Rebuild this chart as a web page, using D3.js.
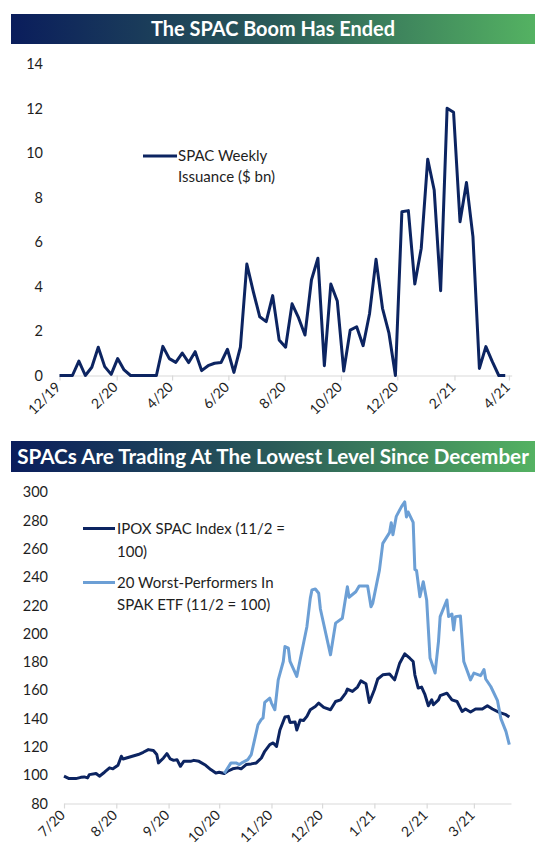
<!DOCTYPE html>
<html><head><meta charset="utf-8">
<script src="https://cdn.jsdelivr.net/npm/d3@7"></script>
<style>body{margin:0;background:#fff}svg{display:block}</style>
</head><body><svg id="c" width="548" height="859"></svg>
<script>
// ---------- DATA ----------
const title1 = "The SPAC Boom Has Ended";
const title2 = "SPACs Are Trading At The Lowest Level Since December";

// Chart 1: weekly SPAC issuance ($ bn), weeks starting 2019-12-01
const weeklyStart = "2019-12-01";
const weeklyIssuance = [0,0,0,0.65,0,0.37,1.27,0.4,0.05,0.76,
  0.25,0,0,0,0,0,1.31,0.76,0.59,1.01,
  0.58,1.07,0.22,0.44,0.55,0.58,1.18,0.14,1.27,5.01,
  3.77,2.64,2.42,3.59,1.6,1.27,3.22,2.6,1.82,4.29,
  5.27,0.44,4.11,3.35,0.2,2.04,2.19,1.34,2.79,5.22,
  3.02,1.9,0,7.36,7.41,4.11,5.72,9.72,8.34,3.81,
  12.01,11.83,6.91,8.67,6.24,0.32,1.3,0.62,0,0];
const chart1Legend = ["SPAC Weekly", "Issuance ($ bn)"];
const chart1YTicks = [0,2,4,6,8,10,12,14];
const chart1XTicks = ["2019-12-01","2020-02-01","2020-04-01","2020-06-01","2020-08-01","2020-10-01","2020-12-01","2021-02-01","2021-04-01"];

// Chart 2: IPOX SPAC Index and 20 worst performers in SPAK ETF
const ipoxDates = ["2020-07-01","2020-07-04","2020-07-08","2020-07-11","2020-07-13","2020-07-15","2020-07-16","2020-07-20","2020-07-22","2020-07-25",
  "2020-07-28","2020-07-30","2020-08-02","2020-08-04","2020-08-05","2020-08-09","2020-08-14","2020-08-17","2020-08-20","2020-08-23",
  "2020-08-25","2020-08-26","2020-08-29","2020-08-31","2020-09-02","2020-09-04","2020-09-06","2020-09-08","2020-09-10","2020-09-14",
  "2020-09-16","2020-09-19","2020-09-23","2020-09-26","2020-09-29","2020-10-01","2020-10-04","2020-10-06","2020-10-09","2020-10-12",
  "2020-10-14","2020-10-17","2020-10-20","2020-10-23","2020-10-26","2020-10-28","2020-10-31","2020-11-02","2020-11-04","2020-11-06",
  "2020-11-09","2020-11-11","2020-11-12","2020-11-15","2020-11-16","2020-11-18","2020-11-20","2020-11-22","2020-11-24","2020-11-27",
  "2020-11-29","2020-12-02","2020-12-06","2020-12-09","2020-12-12","2020-12-15","2020-12-16","2020-12-19","2020-12-22","2020-12-24",
  "2020-12-27","2020-12-29","2021-01-01","2021-01-03","2021-01-06","2021-01-10","2021-01-13","2021-01-16","2021-01-19","2021-01-22",
  "2021-01-24","2021-01-25","2021-01-27","2021-01-29","2021-01-31","2021-02-02","2021-02-04","2021-02-05","2021-02-08","2021-02-09",
  "2021-02-13","2021-02-16","2021-02-19","2021-02-22","2021-02-24","2021-02-27","2021-03-02","2021-03-06","2021-03-09","2021-03-12",
  "2021-03-16","2021-03-20","2021-03-22"];
const ipoxValues = [99.3,97.6,97.6,98.5,98.8,98.1,100.4,101.2,99.3,102.1,
  105.2,104.5,107,113.4,111.5,112.9,114.6,116.2,118.1,117.4,
  114.6,108.7,112.2,115.3,111.5,110.5,111,106.3,109.8,109.8,
  110.5,109.8,107,104,101.6,102.1,101.2,102.8,104.5,105.2,
  104.5,107.5,108,108.7,112.2,116.9,121.6,122.8,120.4,132,
  141.1,141.6,137.3,137.6,132,139,138.7,141.6,146.3,148.6,
  151,147.9,146.3,152.1,153.3,158,160.9,159.2,162.3,166.7,
  164.6,151.4,160.4,168,171,171.5,167.4,179.2,185.8,182.7,
  180.4,171,161.6,162.3,156.9,149.1,153.3,149.8,153.3,156.2,
  158,153.3,152.1,145.1,146.8,144.7,146.8,146.8,149.1,146.8,
  144.4,142.8,141.1];

const worstDates = ["2020-10-04","2020-10-08","2020-10-11","2020-10-13","2020-10-15","2020-10-18","2020-10-20","2020-10-22","2020-10-24","2020-10-26",
  "2020-10-27","2020-10-28","2020-10-31","2020-11-01","2020-11-03","2020-11-05","2020-11-08","2020-11-09","2020-11-11","2020-11-12",
  "2020-11-16","2020-11-18","2020-11-22","2020-11-24","2020-11-25","2020-11-27","2020-11-29","2020-11-30","2020-12-06","2020-12-09",
  "2020-12-13","2020-12-16","2020-12-17","2020-12-21","2020-12-23","2020-12-28","2020-12-30","2020-12-31","2021-01-04","2021-01-06",
  "2021-01-10","2021-01-11","2021-01-12","2021-01-14","2021-01-17","2021-01-19","2021-01-20","2021-01-21","2021-01-24","2021-01-25",
  "2021-01-26","2021-01-28","2021-01-30","2021-02-01","2021-02-03","2021-02-06","2021-02-08","2021-02-09","2021-02-13","2021-02-14",
  "2021-02-16","2021-02-17","2021-02-18","2021-02-21","2021-02-23","2021-02-27","2021-03-01","2021-03-05","2021-03-07","2021-03-08",
  "2021-03-11","2021-03-15","2021-03-17","2021-03-20","2021-03-22"];
const worstValues = [101.2,108.7,108.7,107.5,109.1,111,114.6,125.1,135.7,139.5,
  140.4,151.5,154.5,151,146.3,167.4,180.4,191,189.8,180.4,
  169.8,181.6,205,225,231,231.6,228.6,217.5,185.1,207.5,
  211,233.2,225.8,229.7,233.7,233.7,219.1,221.5,245,263.9,
  271.5,278.5,270,283,289.7,293.2,282.6,286.1,278.8,245.5,
  244.7,226.2,236.8,223.9,182.8,172.2,194.5,212.1,223.9,212.2,
  213.9,202.7,212.1,212.6,180.4,167.4,172.2,170.4,174.7,168,
  162.7,152.7,140,131,121.6];
const chart2Legend1 = ["IPOX SPAC Index (11/2 =", "100)"];
const chart2Legend2 = ["20 Worst-Performers In", "SPAK ETF (11/2 = 100)"];
const chart2YTicks = [80,100,120,140,160,180,200,220,240,260,280,300];
const chart2XTicks = ["2020-07-01","2020-08-01","2020-09-01","2020-10-01","2020-11-01","2020-12-01","2021-01-01","2021-02-01","2021-03-01"];

// ---------- STYLE ----------
const NAVY = "#0c2461", LIGHT = "#6c9fd5", AXIS = "#d9d9d9", TXT = "#1e1e1e";
const FONT = "Lato, 'Open Sans', sans-serif";
const LEG = 15;

const parse = d3.utcParse("%Y-%m-%d");
const fmtTick = d => `${d.getUTCMonth()+1}/${String(d.getUTCFullYear()).slice(2)}`;

const svg = d3.select("#c");
svg.append("rect").attr("width",548).attr("height",859).attr("fill","#fff");
const defs = svg.append("defs");
const grad = defs.append("linearGradient").attr("id","tg").attr("x1","0").attr("x2","1").attr("y1","0").attr("y2","0");
grad.append("stop").attr("offset","0").attr("stop-color","#0a1d5c");
grad.append("stop").attr("offset","0.5").attr("stop-color","#2a5a58");
grad.append("stop").attr("offset","1").attr("stop-color","#54b262");

function titleBar(y, h, text, targetW) {
  svg.append("rect").attr("x",11).attr("y",y).attr("width",524).attr("height",h).attr("fill","url(#tg)");
  const t = svg.append("text").attr("x",273).attr("y",y+h/2).attr("dy","0.36em")
    .attr("text-anchor","middle").attr("fill","#fff").attr("font-family",FONT)
    .attr("font-weight","bold").attr("font-size",20).text(text);
  const w = t.node().getComputedTextLength();
  t.attr("font-size", (20*targetW/w).toFixed(2));
}
titleBar(14, 30, title1, 244);
titleBar(441, 31, title2, 512);

function styleXAxis(g) {
  g.select(".domain").attr("stroke",AXIS).attr("stroke-width",1.2);
  g.selectAll(".tick line").attr("stroke",AXIS).attr("stroke-width",1.2);
  g.selectAll(".tick text").attr("fill",TXT).attr("font-family",FONT).attr("font-size",14)
    .attr("text-anchor","end").attr("x",null).attr("y",null).attr("dy","0.35em")
    .attr("transform","translate(-2,9) rotate(-45)");
}
function styleYAxis(g) {
  g.select(".domain").remove();
  g.selectAll(".tick line").remove();
  g.selectAll(".tick text").attr("fill",TXT).attr("font-family",FONT).attr("font-size",14.5);
}

// ---------- CHART 1 ----------
const x1 = d3.scaleUtc().domain([parse("2019-12-01"), parse("2021-04-04")]).range([59.5, 511.7]);
const y1 = d3.scaleLinear().domain([0,14]).range([375.5, 64]);
const start1 = parse(weeklyStart);
const data1 = weeklyIssuance.map((v,i) => ({d: d3.utcDay.offset(start1, 7*i), v}));

svg.append("g").attr("transform","translate(0,375.5)")
  .call(d3.axisBottom(x1).tickValues(chart1XTicks.map(parse)).tickFormat(fmtTick).tickSize(5).tickSizeOuter(0))
  .call(styleXAxis);
svg.append("g").attr("transform","translate(45,0)")
  .call(d3.axisLeft(y1).tickValues(chart1YTicks).tickSize(0).tickPadding(2))
  .call(styleYAxis);

svg.append("path").datum(data1)
  .attr("fill","none").attr("stroke",NAVY).attr("stroke-width",3).attr("stroke-linejoin","round")
  .attr("d", d3.line().x(d=>x1(d.d)).y(d=>y1(d.v)));

// legend 1
svg.append("line").attr("x1",143).attr("x2",177).attr("y1",156).attr("y2",156).attr("stroke",NAVY).attr("stroke-width",3);
svg.append("text").attr("x",178).attr("y",156).attr("dy","0.35em").attr("fill",TXT).attr("font-family",FONT).attr("font-size",LEG).text(chart1Legend[0]);
svg.append("text").attr("x",178).attr("y",177).attr("dy","0.35em").attr("fill",TXT).attr("font-family",FONT).attr("font-size",LEG).text(chart1Legend[1]);

// ---------- CHART 2 ----------
const x2 = d3.scaleUtc().domain([parse("2020-07-01"), parse("2021-03-23")]).range([64, 511]);
const y2 = d3.scaleLinear().domain([80,300]).range([803.5, 492.3]);
const ipox = ipoxDates.map((d,i)=>({d: parse(d), v: ipoxValues[i]}));
const worst = worstDates.map((d,i)=>({d: parse(d), v: worstValues[i]}));

svg.append("g").attr("transform","translate(0,803.5)")
  .call(d3.axisBottom(x2).tickValues(chart2XTicks.map(parse)).tickFormat(fmtTick).tickSize(5).tickSizeOuter(0))
  .call(styleXAxis);
svg.append("g").attr("transform","translate(50,0)")
  .call(d3.axisLeft(y2).tickValues(chart2YTicks).tickSize(0).tickPadding(2))
  .call(styleYAxis);

const line2 = d3.line().x(d=>x2(d.d)).y(d=>y2(d.v));
svg.append("path").datum(ipox).attr("fill","none").attr("stroke",NAVY).attr("stroke-width",3).attr("stroke-linejoin","round").attr("d",line2);
svg.append("path").datum(worst).attr("fill","none").attr("stroke",LIGHT).attr("stroke-width",3).attr("stroke-linejoin","round").attr("d",line2);

// legend 2
svg.append("line").attr("x1",83).attr("x2",115).attr("y1",528.5).attr("y2",528.5).attr("stroke",NAVY).attr("stroke-width",3);
svg.append("text").attr("x",117).attr("y",529).attr("dy","0.35em").attr("fill",TXT).attr("font-family",FONT).attr("font-size",LEG).text(chart2Legend1[0]);
svg.append("text").attr("x",117).attr("y",551.5).attr("dy","0.35em").attr("fill",TXT).attr("font-family",FONT).attr("font-size",LEG).text(chart2Legend1[1]);
svg.append("line").attr("x1",83).attr("x2",115).attr("y1",582.5).attr("y2",582.5).attr("stroke",LIGHT).attr("stroke-width",3);
svg.append("text").attr("x",117).attr("y",583).attr("dy","0.35em").attr("fill",TXT).attr("font-family",FONT).attr("font-size",LEG).text(chart2Legend2[0]);
svg.append("text").attr("x",117).attr("y",605).attr("dy","0.35em").attr("fill",TXT).attr("font-family",FONT).attr("font-size",LEG).text(chart2Legend2[1]);
</script>
</body></html>
